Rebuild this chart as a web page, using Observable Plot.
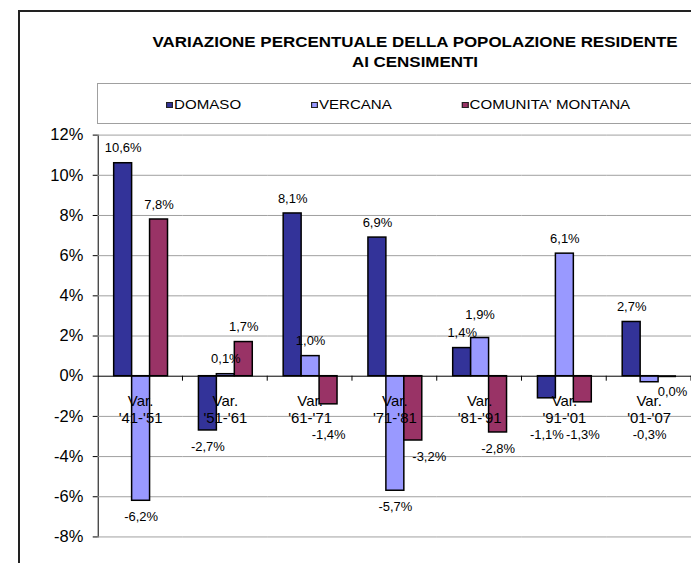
<!DOCTYPE html>
<html>
<head>
<meta charset="utf-8">
<script src="https://cdn.jsdelivr.net/npm/d3@7"></script>
<script src="https://cdn.jsdelivr.net/npm/@observablehq/plot@0.6"></script>
<style>
  html, body { margin: 0; padding: 0; background: #fff; }
  body { width: 691px; height: 563px; overflow: hidden; position: relative; font-family: "Liberation Sans", Arial, sans-serif; }
  #frame { position: absolute; left: 18px; top: 10px; width: 900px; height: 900px; border-left: 2px solid #222; border-top: 2px solid #222; }
  #title { position: absolute; left: 140px; top: 32px; width: 550px; text-align: center; font-weight: bold; font-size: 14px; line-height: 20px; white-space: nowrap; transform: scaleX(1.21); transform-origin: 50% 50%; color: #000; }
  #legendbox { position: absolute; left: 97px; top: 83px; width: 700px; height: 41px; box-sizing: border-box; border: 1px solid #a0a0a0; }
  #legend { position: absolute; left: 166px; top: 96px; height: 17px; display: flex; align-items: center; gap: 60px; transform: scaleX(1.16); transform-origin: 0 50%; font-size: 13px; white-space: nowrap; }
  .item { display: flex; align-items: center; }
  .sw { width: 6px; height: 6px; box-sizing: border-box; border: 1px solid #222; margin-right: 1px; }
  #chart { position: absolute; left: 0; top: 0; }
</style>
</head>
<body>
<div id="frame"></div>
<div id="title">VARIAZIONE PERCENTUALE DELLA POPOLAZIONE RESIDENTE<br>AI CENSIMENTI</div>
<div id="legendbox"></div>
<div id="legend"></div>
<div id="chart"></div>
<script>
const categories = ["'41-'51", "'51-'61", "'61-'71", "'71-'81", "'81-'91", "'91-'01", "'01-'07"];
const seriesNames = ["DOMASO", "VERCANA", "COMUNITA' MONTANA"];
const domaso   = [10.6, -2.7, 8.1, 6.9, 1.4, -1.1, 2.7];
const vercana  = [-6.2, 0.1, 1.0, -5.7, 1.9, 6.1, -0.3];
const comunita = [7.8, 1.7, -1.4, -3.2, -2.8, -1.3, 0.0];
const seriesColors = ["#333399", "#9999FF", "#993366"];
const yTicks = [-8, -6, -4, -2, 0, 2, 4, 6, 8, 10, 12];

// label placement rules (in % units), imitating the spreadsheet's collision avoidance
const labelFloor = -2.1;   // negative labels stay below the category labels
const labelClash = 0.7;    // neighbouring positive labels closer than this clash
const labelStep = 0.9;     // ...and the later one is lifted by this much

const seriesValues = [domaso, vercana, comunita];
const rows = categories.flatMap((cat, i) =>
  seriesNames.map((s, j) => ({cat, series: s, j, value: seriesValues[j][i]})));
const fmt = d => d.value.toFixed(1).replace(".", ",") + "%";

// compute label anchor values
categories.forEach(cat => {
  const g = rows.filter(r => r.cat === cat);
  g.forEach((r, k) => {
    const left = g[k - 1];
    if (r.value > 0) {
      r.labelY = r.value;
      if (left && left.value > 0 && Math.abs(r.labelY - left.labelY) < labelClash) r.labelY = left.labelY + labelStep;
      r.shift = false;
    } else if (r.value < 0) {
      r.labelY = Math.min(r.value, labelFloor);
      r.shift = !!(left && left.value < r.labelY);
    } else {
      r.labelY = 0;
      r.shift = false;
    }
  });
});

// legend
const legend = document.getElementById("legend");
seriesNames.forEach((s, j) => {
  const item = document.createElement("div");
  item.className = "item";
  const sw = document.createElement("div");
  sw.className = "sw";
  sw.style.background = seriesColors[j];
  const t = document.createElement("span");
  t.textContent = s;
  item.appendChild(sw);
  item.appendChild(t);
  legend.appendChild(item);
});

const labelStyle = {fx: "cat", x: "series", y: "labelY", text: fmt, fontSize: 13, lineAnchor: "middle", fill: "#000"};

const chart = Plot.plot({
  width: 693,
  height: 563,
  marginTop: 135,
  marginLeft: 97,
  marginRight: 0,
  marginBottom: 25,
  style: {fontFamily: "'Liberation Sans', Arial, sans-serif", fontSize: "15px", color: "#000", background: "transparent", overflow: "visible"},
  fx: {domain: categories, padding: 0, axis: null, label: null},
  x: {domain: seriesNames, paddingInner: 0, paddingOuter: 0.74, axis: null, label: null},
  y: {domain: [-8, 12], ticks: yTicks, tickFormat: () => "", tickSize: 5, line: true, label: null},
  color: {domain: seriesNames, range: seriesColors},
  marks: [
    Plot.ruleY(yTicks.filter(t => t !== 0), {stroke: "#a0a0a0", strokeWidth: 1}),
    Plot.barY(rows, {fx: "cat", x: "series", y: "value", fill: "series", stroke: "#000", strokeWidth: 1.5}),
    Plot.ruleY([0], {stroke: "#000", strokeWidth: 1}),
    Plot.tickY(rows.filter(d => d.value === 0), {fx: "cat", x: "series", y: "value", stroke: "#000", strokeWidth: 2}),
    // y tick labels, in the first facet only
    Plot.text(yTicks, {fx: () => categories[0], y: d => d, text: d => `${d}%`, frameAnchor: "left", textAnchor: "end", lineAnchor: "middle", dx: -15, fontSize: 16.5, fill: "#000"}),
    Plot.text(categories, {fx: d => d, y: () => 0, text: d => "Var.\n" + d, lineAnchor: "top", dy: 18, fontSize: 15, lineHeight: 1.13, fill: "#000"}),
    Plot.text(rows.filter(d => d.value > 0), {...labelStyle, dy: -15}),
    Plot.text(rows.filter(d => d.value < 0 && !d.shift), {...labelStyle, dy: 16}),
    Plot.text(rows.filter(d => d.value < 0 && d.shift), {...labelStyle, dy: 16, dx: 16}),
    Plot.text(rows.filter(d => d.value === 0), {...labelStyle, dy: 16, dx: 5})
  ]
});
document.getElementById("chart").appendChild(chart);

// category-boundary tick marks on the zero line, from the library's scales
const fxs = chart.scale("fx");
const ys = chart.scale("y");
const bounds = categories.slice(1).map(c => fxs.apply(c));
bounds.push(fxs.apply(categories[categories.length - 1]) + fxs.bandwidth);
d3.select(chart).append("g")
  .attr("stroke", "#000")
  .selectAll("line")
  .data(bounds)
  .join("line")
  .attr("x1", d => d).attr("x2", d => d)
  .attr("y1", ys.apply(0)).attr("y2", ys.apply(0) + 5);
</script>
</body>
</html>
